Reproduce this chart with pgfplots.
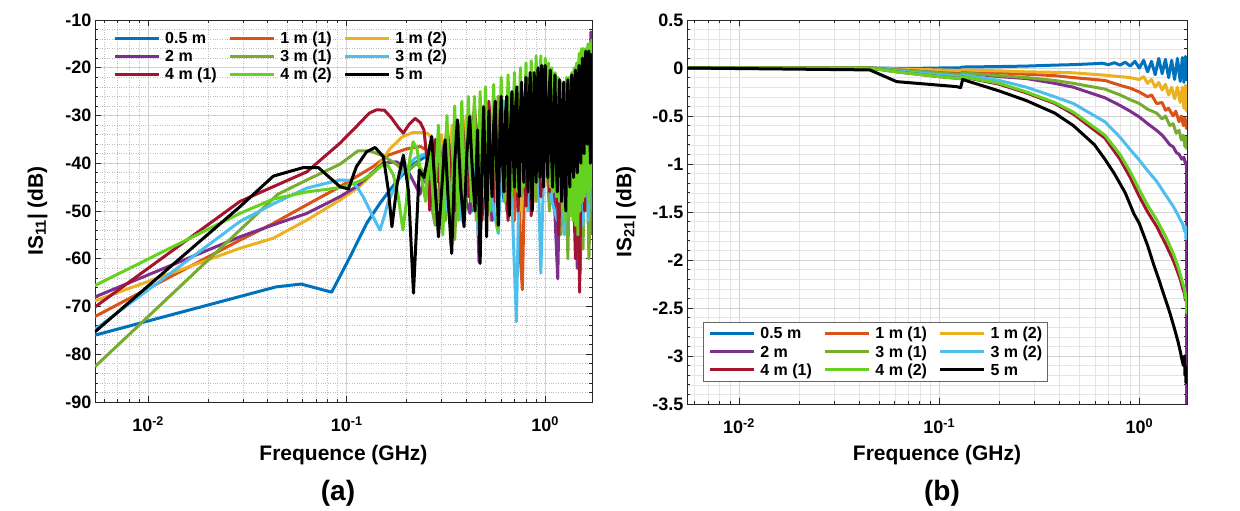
\documentclass[border=0pt]{standalone}
\usepackage{pgfplots}
\pgfplotsset{compat=1.18}
\usepackage{fontspec}
\setmainfont{Liberation Sans}
\definecolor{c1}{RGB}{0,114,189}
\definecolor{c2}{RGB}{217,83,25}
\definecolor{c3}{RGB}{237,177,32}
\definecolor{c4}{RGB}{126,47,142}
\definecolor{c5}{RGB}{119,172,48}
\definecolor{c6}{RGB}{77,190,238}
\definecolor{c7}{RGB}{162,20,47}
\definecolor{c8}{RGB}{100,210,30}
\definecolor{c9}{RGB}{0,0,0}
\pgfplotsset{
  myaxis/.style={
    scale only axis,
    axis line style={black!85, line width=0.8pt},
    tick align=inside,
    tick pos=both,
    major tick length=6pt,
    minor tick length=3pt,
    every tick/.append style={black!85, line width=0.6pt},
    xtick={0.01,0.1,1},
    xticklabels={10\textsuperscript{-2},10\textsuperscript{-1},10\textsuperscript{0}},
    xticklabel style={yshift=-11pt},
    minor xtick={0.006,0.007,0.008,0.009,0.02,0.03,0.04,0.05,0.06,0.07,0.08,0.09,0.2,0.3,0.4,0.5,0.6,0.7,0.8,0.9},
    minor y tick num=4,
    grid=both,
    major grid style={black!18, line width=0.6pt},
    tick label style={font=\bfseries\fontsize{18}{18}\selectfont},
    /pgf/number format/assume math mode=true,
    label style={font=\bfseries\fontsize{21}{21}\selectfont},
    xlabel={Frequence (GHz)},
    legend columns=3,
    legend cell align=left,
    legend image code/.code={\draw[#1] (0pt,5.5pt) -- (44pt,5.5pt);},
    legend style={font=\bfseries\fontsize{16}{16}\selectfont, column sep=5pt, row sep=5pt,
      nodes={inner sep=0pt, anchor=base west},
      /tikz/every even column/.append style={column sep=11.5pt}},
  },
}
\begin{document}
\begin{tikzpicture}
\path[use as bounding box] (0pt,0pt) rectangle (1240pt,511pt);
% ---------------- (a) S11 ----------------
\begin{axis}[xmode=log, myaxis, at={(95pt,109pt)}, anchor=south west, width=497pt, height=382pt,
  xmin=0.0054, xmax=1.72, ymin=-90, ymax=-10,
  ytick={-90,-80,...,-10},
  minor grid style={black!25, dotted, line width=0.6pt},
  every axis plot/.append style={line width=3pt, line join=round},
  ylabel={IS\textsubscript{11}| (dB)},
  ylabel style={at={(axis description cs:-0.1157,0.5)}, anchor=center},
  xlabel style={at={(axis description cs:0.5,-0.1387)}, anchor=center},
  legend style={draw=none, fill=none, inner sep=0pt, at={(0.0362,0.969)}, anchor=north west},
]
\addplot[c1] coordinates {(0.0054,-76.0) (0.044,-65.9) (0.059,-65.3) (0.084,-67.0) (0.104,-59.6) (0.126,-52.6) (0.147,-48.4) (0.165,-45.6) (0.19,-42.5) (0.22,-40.0) (0.25,-38.6) (0.27,-38.2) (0.285,-42) (0.3,-36) (0.32,-46) (0.345,-33) (0.37,-48) (0.4,-31) (0.43,-50) (0.47,-29) (0.52,-50) (0.56,-27) (0.62,-48) (0.68,-25) (0.75,-46) (0.82,-23) (0.9,-45) (0.98,-22) (1.05,-46) (1.12,-25) (1.2,-50) (1.28,-26) (1.36,-48) (1.44,-24) (1.52,-46) (1.6,-22) (1.66,-44) (1.72,-22)};
\addplot[c2] coordinates {(0.0054,-72.1) (0.029,-56.1) (0.0427,-52.6) (0.063,-48.7) (0.0925,-44.9) (0.136,-40.7) (0.162,-38.3) (0.2,-37) (0.235,-36.5) (0.26,-37.5) (0.28,-44) (0.3,-36) (0.32,-48) (0.35,-34) (0.38,-50) (0.42,-30) (0.47,-52) (0.52,-28) (0.58,-50) (0.64,-26) (0.7,-52) (0.735,-30) (0.75,-60) (0.767,-66.5) (0.8,-28) (0.86,-50) (0.95,-24) (1.05,-48) (1.15,-26) (1.25,-52) (1.35,-28) (1.45,-55) (1.5,-63) (1.55,-30) (1.62,-50) (1.68,-30) (1.72,-55)};
\addplot[c3] coordinates {(0.0054,-68.8) (0.029,-57.8) (0.0427,-55.7) (0.063,-51.9) (0.0925,-47.7) (0.115,-45) (0.136,-42.1) (0.15,-39.5) (0.165,-37) (0.19,-34.5) (0.214,-33.6) (0.24,-33.6) (0.257,-33.8) (0.27,-35) (0.285,-42) (0.3,-34) (0.32,-46) (0.34,-32) (0.37,-48) (0.4,-30) (0.44,-50) (0.48,-28) (0.53,-52) (0.58,-26) (0.64,-48) (0.7,-25) (0.76,-50) (0.83,-23) (0.9,-47) (0.98,-22) (1.06,-48) (1.14,-24) (1.22,-52) (1.3,-25) (1.38,-50) (1.46,-23) (1.54,-55) (1.62,-22) (1.68,-50) (1.72,-25)};
\addplot[c4] coordinates {(0.0054,-68.0) (0.029,-55.4) (0.0427,-52.9) (0.063,-50.5) (0.0925,-47.0) (0.112,-44.9) (0.136,-41.8) (0.153,-40.0) (0.178,-39.7) (0.2,-41) (0.218,-44) (0.234,-46.5) (0.25,-42) (0.27,-38) (0.29,-44) (0.31,-36) (0.34,-50) (0.37,-32) (0.4,-48) (0.418,-50.5) (0.44,-30) (0.464,-60.7) (0.49,-29) (0.54,-52) (0.6,-27) (0.66,-50) (0.72,-25) (0.8,-48) (0.88,-22) (0.96,-47) (1.05,-24) (1.156,-64.2) (1.2,-28) (1.3,-50) (1.4,-25) (1.45,-62) (1.5,-30) (1.6,-22) (1.66,-45) (1.7,-12.5) (1.72,-20)};
\addplot[c5] coordinates {(0.0054,-82.6) (0.045,-46.5) (0.063,-43.5) (0.0925,-40.2) (0.114,-37.4) (0.131,-37.4) (0.153,-38.5) (0.175,-40) (0.2,-42) (0.225,-40) (0.245,-42) (0.262,-47) (0.279,-53) (0.29,-46) (0.3,-40) (0.315,-52) (0.33,-36) (0.35,-56) (0.37,-33) (0.39,-50) (0.42,-30) (0.45,-52) (0.49,-28) (0.53,-50) (0.58,-26) (0.64,-50) (0.7,-24) (0.76,-47) (0.83,-22) (0.9,-48) (0.97,-21) (1.05,-50) (1.12,-24) (1.2,-55) (1.26,-26) (1.3,-60) (1.34,-28) (1.42,-52) (1.48,-25) (1.55,-58) (1.6,-26) (1.66,-60) (1.72,-30)};
\addplot[c6] coordinates {(0.0054,-74.8) (0.029,-52.2) (0.0427,-48.5) (0.063,-45.2) (0.0925,-43.5) (0.104,-43.6) (0.113,-45) (0.121,-47.0) (0.135,-51) (0.147,-54.0) (0.155,-51) (0.162,-48.0) (0.175,-45) (0.19,-42) (0.22,-39) (0.25,-38) (0.27,-45) (0.29,-36) (0.32,-50) (0.35,-33) (0.38,-52) (0.42,-30) (0.46,-55) (0.5,-28) (0.55,-50) (0.58,-54.7) (0.62,-27) (0.68,-48) (0.716,-73.2) (0.75,-28) (0.82,-50) (0.9,-25) (0.95,-63) (1.0,-30) (1.08,-48) (1.15,-52) (1.2,-36) (1.25,-55) (1.3,-35) (1.35,-50) (1.4,-34) (1.45,-56) (1.5,-38) (1.55,-53) (1.6,-35) (1.65,-52) (1.7,-34) (1.72,-45)};
\addplot[c7] coordinates {(0.0054,-70.1) (0.029,-48.0) (0.0427,-44.9) (0.063,-41.8) (0.0925,-35.8) (0.112,-32.3) (0.13,-29.5) (0.1416,-28.8) (0.155,-28.9) (0.168,-30.5) (0.182,-32.5) (0.193,-33.7) (0.205,-32) (0.221,-30.6) (0.235,-31.5) (0.245,-33) (0.255,-40) (0.262,-49.8) (0.272,-40) (0.28,-35) (0.3,-48) (0.32,-32) (0.35,-50) (0.38,-30) (0.41,-47) (0.44,-28) (0.48,-52) (0.52,-27) (0.56,-48) (0.6,-26) (0.65,-52) (0.7,-24) (0.73,-50) (0.76,-26) (0.8,-49) (0.83,-24) (0.85,-51) (0.9,-21) (0.95,-47) (1.0,-22) (1.05,-46) (1.1,-24) (1.17,-55) (1.22,-26) (1.3,-50) (1.35,-27) (1.42,-60) (1.46,-28) (1.49,-67) (1.53,-25) (1.58,-50) (1.63,-20) (1.68,-45) (1.72,-25)};
\addplot[c8] coordinates {(0.0054,-65.6) (0.029,-50.5) (0.0427,-47.5) (0.063,-46.0) (0.0925,-45.1) (0.104,-44.5) (0.12,-43.5) (0.136,-42) (0.15,-40.5) (0.16,-40.2) (0.172,-42.5) (0.182,-47) (0.192,-54) (0.2,-48) (0.208,-39) (0.216,-35.5) (0.226,-37) (0.238,-43) (0.25,-48) (0.262,-36) (0.275,-50) (0.29,-32) (0.305,-55) (0.32,-30) (0.335,-57) (0.35,-28) (0.365,-52) (0.38,-27) (0.395,-50) (0.41,-26) (0.425,-48) (0.44,-26) (0.455,-52) (0.47,-25) (0.485,-47) (0.50,-24) (0.525,-50) (0.55,-23.5) (0.575,-54) (0.60,-22) (0.625,-48) (0.65,-21.5) (0.675,-47) (0.70,-21) (0.725,-46) (0.75,-20) (0.775,-45) (0.80,-19) (0.825,-46) (0.85,-18.5) (0.875,-44) (0.90,-17.5) (0.925,-43) (0.95,-17.5) (0.975,-44) (1.00,-18) (1.02,-43) (1.04,-19) (1.06,-45) (1.08,-20) (1.10,-46) (1.12,-21) (1.14,-47) (1.16,-22) (1.18,-48) (1.20,-23) (1.22,-50) (1.24,-23) (1.26,-52) (1.28,-22) (1.30,-50) (1.32,-22) (1.34,-51) (1.36,-21) (1.38,-52) (1.40,-20) (1.42,-53) (1.44,-19) (1.46,-55) (1.48,-17) (1.50,-50) (1.52,-16) (1.54,-48) (1.56,-16) (1.58,-47) (1.60,-16) (1.62,-46) (1.64,-15) (1.66,-48) (1.68,-15) (1.70,-45) (1.72,-14)};
\addplot[c9] coordinates {(0.0054,-75.3) (0.029,-49.1) (0.0427,-42.7) (0.0605,-40.9) (0.072,-40.9) (0.0925,-44.9) (0.102,-45.4) (0.112,-40.7) (0.126,-37.6) (0.139,-36.7) (0.153,-38.6) (0.162,-45.6) (0.169,-53.3) (0.18,-44) (0.193,-38.3) (0.205,-46) (0.217,-67.2) (0.232,-41.4) (0.245,-43) (0.268,-34.4) (0.29,-55.4) (0.313,-35.1) (0.325,-48) (0.338,-58.9) (0.35,-40) (0.361,-30.9) (0.375,-45) (0.39,-53.3) (0.403,-38) (0.416,-30.2) (0.43,-42) (0.443,-50) (0.456,-33) (0.47,-61.0) (0.48,-40) (0.49,-28.2) (0.5,-45) (0.507,-55.4) (0.515,-38) (0.52,-29) (0.53,-40) (0.54,-47) (0.55,-32) (0.56,-27) (0.57,-42) (0.58,-53) (0.59,-35) (0.60,-26) (0.61,-40) (0.62,-46) (0.63,-30) (0.64,-26) (0.65,-44) (0.66,-51) (0.67,-32) (0.68,-25) (0.69,-38) (0.70,-45) (0.71,-28) (0.72,-24) (0.73,-40) (0.74,-47) (0.75,-30) (0.76,-23) (0.77,-36) (0.78,-44) (0.79,-28) (0.80,-22) (0.81,-38) (0.82,-46) (0.83,-27) (0.84,-21) (0.85,-40) (0.86,-50) (0.87,-30) (0.88,-21) (0.89,-36) (0.90,-44) (0.91,-26) (0.92,-20) (0.93,-35) (0.94,-43) (0.95,-25) (0.96,-19.5) (0.97,-36) (0.98,-45) (0.99,-27) (1.00,-19.5) (1.015,-36) (1.03,-43) (1.045,-26) (1.06,-20.5) (1.075,-38) (1.09,-45) (1.105,-28) (1.12,-21.5) (1.135,-39) (1.15,-46) (1.165,-30) (1.18,-22.5) (1.195,-40) (1.21,-48) (1.225,-30) (1.24,-23) (1.255,-42) (1.27,-50) (1.285,-30) (1.30,-22.5) (1.315,-38) (1.33,-45) (1.345,-28) (1.36,-21.5) (1.375,-36) (1.39,-43) (1.405,-27) (1.42,-20.5) (1.435,-35) (1.45,-42) (1.465,-26) (1.48,-19.5) (1.495,-33) (1.51,-40) (1.525,-24) (1.54,-18) (1.555,-31) (1.57,-38) (1.585,-24) (1.60,-16.5) (1.615,-30) (1.63,-36) (1.645,-24) (1.66,-16.5) (1.675,-32) (1.69,-40) (1.705,-26) (1.72,-17)};
\legend{0.5 m, 1 m (1), 1 m (2), 2 m, 3 m (1), 3 m (2), 4 m (1), 4 m (2), 5 m}
\end{axis}
% ---------------- (b) S21 ----------------
\begin{axis}[xmode=log, myaxis, at={(687pt,107pt)}, anchor=south west, width=500pt, height=384pt,
  xmin=0.0055, xmax=1.73, ymin=-3.5, ymax=0.5,
  ytick={-3.5,-3,-2.5,-2,-1.5,-1,-0.5,0,0.5},
  minor grid style={black!10, line width=0.5pt},
  every axis plot/.append style={line width=3pt, line join=round},
  ylabel={IS\textsubscript{21}| (dB)},
  ylabel style={at={(axis description cs:-0.122,0.5)}, anchor=center},
  xlabel style={at={(axis description cs:0.5,-0.133)}, anchor=center},
  legend style={draw=black!60, line width=0.8pt, fill=white, inner sep=5pt, at={(0.032,0.0573)}, anchor=south west},
]
\addplot[c1] coordinates {(0.0055,0) (0.045,0) (0.07,-0.005) (0.1,0.0) (0.127,0.0) (0.13,0.01) (0.2,0.015) (0.273,0.02) (0.378,0.03) (0.468,0.035) (0.6,0.045) (0.65,0.05) (0.7,0.035) (0.75,0.055) (0.8,0.03) (0.85,0.06) (0.9,0.02) (0.95,0.07) (1.0,0.0) (1.05,0.08) (1.1,-0.04) (1.15,0.07) (1.2,-0.07) (1.25,0.1) (1.3,-0.06) (1.35,0.09) (1.4,-0.1) (1.45,0.08) (1.5,-0.12) (1.55,0.1) (1.6,-0.14) (1.64,0.11) (1.67,-0.15) (1.7,0.12) (1.72,-0.12) (1.73,0.1)};
\addplot[c2] coordinates {(0.0055,0) (0.045,0) (0.0613,-0.02) (0.1,-0.03) (0.127,-0.04) (0.13,-0.03) (0.2,-0.05) (0.273,-0.065) (0.378,-0.08) (0.468,-0.1) (0.673,-0.13) (0.8,-0.18) (0.9,-0.21) (1.0,-0.25) (1.1,-0.3) (1.15,-0.28) (1.22,-0.37) (1.3,-0.36) (1.35,-0.44) (1.4,-0.42) (1.475,-0.5) (1.52,-0.45) (1.58,-0.56) (1.62,-0.5) (1.66,-0.6) (1.69,-0.52) (1.72,-0.63) (1.73,-0.55)};
\addplot[c3] coordinates {(0.0055,0) (0.045,0) (0.0613,-0.01) (0.1,-0.02) (0.127,-0.025) (0.13,-0.02) (0.2,-0.03) (0.273,-0.04) (0.378,-0.045) (0.468,-0.05) (0.673,-0.075) (0.8,-0.09) (0.9,-0.1) (1.0,-0.12) (1.05,-0.09) (1.1,-0.16) (1.15,-0.12) (1.2,-0.2) (1.25,-0.15) (1.3,-0.23) (1.35,-0.17) (1.4,-0.28) (1.45,-0.2) (1.5,-0.32) (1.55,-0.2) (1.6,-0.36) (1.64,-0.2) (1.67,-0.42) (1.7,-0.18) (1.72,-0.45) (1.73,-0.25)};
\addplot[c4] coordinates {(0.0055,0) (0.045,0) (0.0613,-0.02) (0.1,-0.05) (0.127,-0.07) (0.13,-0.05) (0.2,-0.09) (0.273,-0.11) (0.378,-0.16) (0.468,-0.2) (0.673,-0.31) (0.8,-0.39) (0.9,-0.45) (1.0,-0.51) (1.1,-0.58) (1.22,-0.65) (1.3,-0.7) (1.35,-0.74) (1.42,-0.8) (1.475,-0.82) (1.53,-0.88) (1.58,-0.9) (1.63,-0.95) (1.67,-0.93) (1.7,-1.0) (1.715,-0.98) (1.72,-1.03) (1.722,-3.5)};
\addplot[c5] coordinates {(0.0055,0) (0.045,0) (0.0613,-0.02) (0.1,-0.05) (0.127,-0.07) (0.13,-0.05) (0.2,-0.08) (0.273,-0.1) (0.378,-0.13) (0.468,-0.16) (0.673,-0.22) (0.8,-0.28) (0.9,-0.33) (1.0,-0.37) (1.1,-0.43) (1.22,-0.47) (1.3,-0.53) (1.35,-0.5) (1.42,-0.6) (1.475,-0.58) (1.53,-0.68) (1.58,-0.65) (1.62,-0.75) (1.66,-0.7) (1.69,-0.82) (1.71,-0.72) (1.73,-0.85)};
\addplot[c6] coordinates {(0.0055,0) (0.045,0) (0.0613,-0.03) (0.1,-0.07) (0.127,-0.09) (0.13,-0.07) (0.2,-0.13) (0.273,-0.2) (0.378,-0.3) (0.468,-0.37) (0.673,-0.56) (0.8,-0.72) (0.9,-0.85) (1.0,-0.96) (1.1,-1.07) (1.22,-1.18) (1.35,-1.32) (1.475,-1.44) (1.55,-1.52) (1.6,-1.58) (1.65,-1.63) (1.68,-1.7) (1.7,-1.65) (1.71,-1.78) (1.72,-1.68) (1.73,-1.75)};
\addplot[c7] coordinates {(0.0055,0) (0.045,0) (0.0613,-0.04) (0.1,-0.09) (0.127,-0.11) (0.13,-0.09) (0.2,-0.17) (0.273,-0.26) (0.378,-0.37) (0.468,-0.48) (0.673,-0.73) (0.8,-0.95) (0.9,-1.14) (1.0,-1.34) (1.1,-1.5) (1.22,-1.65) (1.35,-1.83) (1.475,-2.0) (1.55,-2.12) (1.6,-2.2) (1.65,-2.3) (1.68,-2.35) (1.7,-2.42) (1.715,-2.38) (1.725,-2.48) (1.73,-2.4)};
\addplot[c8] coordinates {(0.0055,0) (0.045,0) (0.0613,-0.04) (0.1,-0.09) (0.127,-0.11) (0.13,-0.09) (0.2,-0.16) (0.273,-0.25) (0.378,-0.36) (0.468,-0.46) (0.673,-0.70) (0.8,-0.9) (0.9,-1.08) (1.0,-1.27) (1.1,-1.43) (1.22,-1.58) (1.35,-1.75) (1.475,-1.93) (1.55,-2.05) (1.6,-2.15) (1.65,-2.25) (1.68,-2.3) (1.7,-2.4) (1.715,-2.35) (1.725,-2.55) (1.73,-2.5)};
\addplot[c9] coordinates {(0.0055,0) (0.045,-0.02) (0.0613,-0.142) (0.122,-0.194) (0.128,-0.205) (0.131,-0.12) (0.2,-0.24) (0.273,-0.34) (0.378,-0.47) (0.468,-0.6) (0.597,-0.8) (0.673,-0.95) (0.75,-1.1) (0.85,-1.3) (0.94,-1.52) (1.0,-1.62) (1.1,-1.85) (1.18,-2.05) (1.25,-2.2) (1.32,-2.35) (1.42,-2.55) (1.5,-2.72) (1.56,-2.85) (1.6,-2.95) (1.63,-3.03) (1.66,-3.1) (1.68,-3.0) (1.69,-3.2) (1.7,-3.12) (1.71,-3.28) (1.72,-3.15) (1.725,-3.26) (1.73,-3.1)};
\legend{0.5 m, 1 m (1), 1 m (2), 2 m, 3 m (1), 3 m (2), 4 m (1), 4 m (2), 5 m}
\end{axis}
\node[font=\bfseries\fontsize{28}{28}\selectfont] at (338pt,18pt) {(a)};
\node[font=\bfseries\fontsize{28}{28}\selectfont] at (942pt,18pt) {(b)};
\end{tikzpicture}
\end{document}
